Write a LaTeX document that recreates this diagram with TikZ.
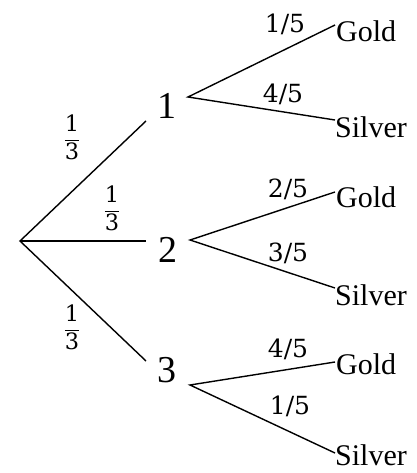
\documentclass[tikz,border=0pt]{standalone}
\usepackage{fontspec}
\newfontfamily\tnr{Liberation Serif}
\newfontfamily\djs{DejaVu Serif}
\begin{document}
\begin{tikzpicture}[x=1pt,y=-1pt,
  br/.style={line width=1.4pt},
  num/.style={font=\fontsize{38}{40}\selectfont\tnr, inner sep=0pt},
  leaf/.style={font=\fontsize{30}{32}\selectfont\tnr, inner sep=0pt, anchor=west},
  pr/.style={font=\fontsize{25}{28}\selectfont\djs, inner sep=0pt},
  thr/.style={font=\fontsize{22.5}{25}\selectfont\djs, inner sep=0pt}]
\useasboundingbox (0,0) rectangle (416,473);
% coordinates
\coordinate (root) at (20,241);
\coordinate (a1) at (146,121);
\coordinate (a2) at (146,241);
\coordinate (a3) at (146,361);
\coordinate (b1) at (188,97);
\coordinate (b2) at (190,240);
\coordinate (b3) at (190,385);
\coordinate (g1e) at (335,25);
\coordinate (s1e) at (335,120);
\coordinate (g2e) at (335,192);
\coordinate (s2e) at (335,288);
\coordinate (g3e) at (335,362);
\coordinate (s3e) at (335,453);
% level-1 labels
\node[num] (n1) at (167,106) {1};
\node[num] (n2) at (168,250) {2};
\node[num] (n3) at (167,370) {3};
% leaves
\node[leaf] (g1) at (336,31) {Gold};
\node[leaf] (s1) at (335,127) {Silver};
\node[leaf] (g2) at (336,197) {Gold};
\node[leaf] (s2) at (335,295) {Silver};
\node[leaf] (g3) at (336,364) {Gold};
\node[leaf] (s3) at (335,455) {Silver};
% branches
\draw[br] (a1) -- (root) -- (a3);
\draw[br] (root) -- (a2);
\draw[br] (g1e) -- (b1) -- (s1e);
\draw[br] (g2e) -- (b2) -- (s2e);
\draw[br] (g3e) -- (b3) -- (s3e);
% probabilities
\node[thr] (f1) at (72,137) {$\displaystyle\frac{\hbox{1}}{\hbox{3}}$};
\node[thr] (f2) at (112,208) {$\displaystyle\frac{\hbox{1}}{\hbox{3}}$};
\node[thr] (f3) at (72,327) {$\displaystyle\frac{\hbox{1}}{\hbox{3}}$};
\node[pr] (p1) at (285,24) {1/5};
\node[pr] (p2) at (283,94) {4/5};
\node[pr] (p3) at (288,189) {2/5};
\node[pr] (p4) at (288,253) {3/5};
\node[pr] (p5) at (288,349) {4/5};
\node[pr] (p6) at (290,406) {1/5};
\end{tikzpicture}
\end{document}
